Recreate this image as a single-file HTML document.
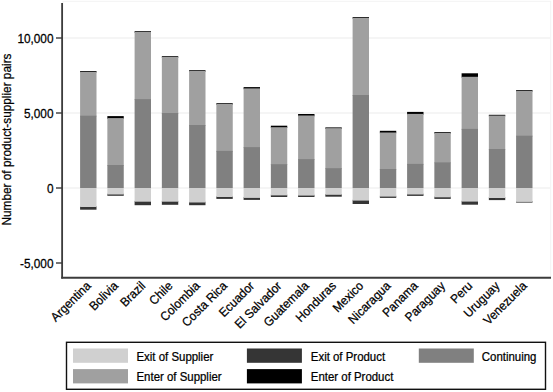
<!DOCTYPE html>
<html><head><meta charset="utf-8"><style>
html,body{margin:0;padding:0;background:#fff;}
body{width:553px;height:392px;overflow:hidden;}
svg{display:block;font-family:"Liberation Sans", sans-serif;}
</style></head><body>
<svg width="553" height="392" viewBox="0 0 553 392" fill="#000">
<rect x="63" y="1.3" width="487.7" height="276" fill="none" stroke="#f3f3f3" stroke-width="1"/>
<line x1="63" y1="38" x2="550" y2="38" stroke="#ebebeb" stroke-width="1"/>
<line x1="63" y1="113" x2="550" y2="113" stroke="#ebebeb" stroke-width="1"/>
<line x1="63" y1="188" x2="550" y2="188" stroke="#ebebeb" stroke-width="1"/>
<rect x="80.1" y="71" width="16.4" height="1.55" fill="#000000"/>
<rect x="80.1" y="71.75" width="16.4" height="44.75" fill="#a0a0a0"/>
<rect x="80.1" y="115.7" width="16.4" height="72.3" fill="#808080"/>
<rect x="80.1" y="206.2" width="16.4" height="3.5" fill="#353535"/>
<rect x="80.1" y="188" width="16.4" height="19" fill="#d0d0d0"/>
<rect x="107.35" y="116.1" width="16.4" height="2.8" fill="#000000"/>
<rect x="107.35" y="118.1" width="16.4" height="47.7" fill="#a0a0a0"/>
<rect x="107.35" y="165" width="16.4" height="23" fill="#808080"/>
<rect x="107.35" y="193.7" width="16.4" height="2.1" fill="#353535"/>
<rect x="107.35" y="188" width="16.4" height="6.5" fill="#d0d0d0"/>
<rect x="134.6" y="31.2" width="16.4" height="1.55" fill="#000000"/>
<rect x="134.6" y="31.95" width="16.4" height="67.95" fill="#a0a0a0"/>
<rect x="134.6" y="99.1" width="16.4" height="88.9" fill="#808080"/>
<rect x="134.6" y="200.9" width="16.4" height="4.3" fill="#353535"/>
<rect x="134.6" y="188" width="16.4" height="13.7" fill="#d0d0d0"/>
<rect x="161.85" y="56.2" width="16.4" height="1.55" fill="#000000"/>
<rect x="161.85" y="56.95" width="16.4" height="56.85" fill="#a0a0a0"/>
<rect x="161.85" y="113" width="16.4" height="75" fill="#808080"/>
<rect x="161.85" y="200.9" width="16.4" height="3.9" fill="#353535"/>
<rect x="161.85" y="188" width="16.4" height="13.7" fill="#d0d0d0"/>
<rect x="189.1" y="70.2" width="16.4" height="1.55" fill="#000000"/>
<rect x="189.1" y="70.95" width="16.4" height="54.85" fill="#a0a0a0"/>
<rect x="189.1" y="125" width="16.4" height="63" fill="#808080"/>
<rect x="189.1" y="201.7" width="16.4" height="3.5" fill="#353535"/>
<rect x="189.1" y="188" width="16.4" height="14.5" fill="#d0d0d0"/>
<rect x="216.35" y="103.2" width="16.4" height="1.55" fill="#000000"/>
<rect x="216.35" y="103.95" width="16.4" height="47.75" fill="#a0a0a0"/>
<rect x="216.35" y="150.9" width="16.4" height="37.1" fill="#808080"/>
<rect x="216.35" y="196.2" width="16.4" height="2.7" fill="#353535"/>
<rect x="216.35" y="188" width="16.4" height="9" fill="#d0d0d0"/>
<rect x="243.6" y="87.1" width="16.4" height="2.1" fill="#000000"/>
<rect x="243.6" y="88.4" width="16.4" height="59.5" fill="#a0a0a0"/>
<rect x="243.6" y="147.1" width="16.4" height="40.9" fill="#808080"/>
<rect x="243.6" y="197.1" width="16.4" height="2.8" fill="#353535"/>
<rect x="243.6" y="188" width="16.4" height="9.9" fill="#d0d0d0"/>
<rect x="270.85" y="125.7" width="16.4" height="2.3" fill="#000000"/>
<rect x="270.85" y="127.2" width="16.4" height="37.8" fill="#a0a0a0"/>
<rect x="270.85" y="164.2" width="16.4" height="23.8" fill="#808080"/>
<rect x="270.85" y="194.6" width="16.4" height="2.4" fill="#353535"/>
<rect x="270.85" y="188" width="16.4" height="7.4" fill="#d0d0d0"/>
<rect x="298.1" y="114" width="16.4" height="2.3" fill="#000000"/>
<rect x="298.1" y="115.5" width="16.4" height="44.4" fill="#a0a0a0"/>
<rect x="298.1" y="159.1" width="16.4" height="28.9" fill="#808080"/>
<rect x="298.1" y="194.8" width="16.4" height="2.2" fill="#353535"/>
<rect x="298.1" y="188" width="16.4" height="7.6" fill="#d0d0d0"/>
<rect x="325.35" y="127.4" width="16.4" height="1.55" fill="#000000"/>
<rect x="325.35" y="128.15" width="16.4" height="40.85" fill="#a0a0a0"/>
<rect x="325.35" y="168.2" width="16.4" height="19.8" fill="#808080"/>
<rect x="325.35" y="194" width="16.4" height="2.7" fill="#353535"/>
<rect x="325.35" y="188" width="16.4" height="6.8" fill="#d0d0d0"/>
<rect x="352.6" y="17.1" width="16.4" height="1.55" fill="#000000"/>
<rect x="352.6" y="17.85" width="16.4" height="77.95" fill="#a0a0a0"/>
<rect x="352.6" y="95" width="16.4" height="93" fill="#808080"/>
<rect x="352.6" y="199.8" width="16.4" height="4.2" fill="#353535"/>
<rect x="352.6" y="188" width="16.4" height="12.6" fill="#d0d0d0"/>
<rect x="379.85" y="130.8" width="16.4" height="2.5" fill="#000000"/>
<rect x="379.85" y="132.5" width="16.4" height="37.3" fill="#a0a0a0"/>
<rect x="379.85" y="169" width="16.4" height="19" fill="#808080"/>
<rect x="379.85" y="195.8" width="16.4" height="2.1" fill="#353535"/>
<rect x="379.85" y="188" width="16.4" height="8.6" fill="#d0d0d0"/>
<rect x="407.1" y="111.9" width="16.4" height="2.8" fill="#000000"/>
<rect x="407.1" y="113.9" width="16.4" height="50.8" fill="#a0a0a0"/>
<rect x="407.1" y="163.9" width="16.4" height="24.1" fill="#808080"/>
<rect x="407.1" y="193.7" width="16.4" height="2.2" fill="#353535"/>
<rect x="407.1" y="188" width="16.4" height="6.5" fill="#d0d0d0"/>
<rect x="434.35" y="132.1" width="16.4" height="1.55" fill="#000000"/>
<rect x="434.35" y="132.85" width="16.4" height="30.35" fill="#a0a0a0"/>
<rect x="434.35" y="162.4" width="16.4" height="25.6" fill="#808080"/>
<rect x="434.35" y="196.5" width="16.4" height="2.4" fill="#353535"/>
<rect x="434.35" y="188" width="16.4" height="9.3" fill="#d0d0d0"/>
<rect x="461.6" y="73.3" width="16.4" height="4.3" fill="#000000"/>
<rect x="461.6" y="76.8" width="16.4" height="52.9" fill="#a0a0a0"/>
<rect x="461.6" y="128.9" width="16.4" height="59.1" fill="#808080"/>
<rect x="461.6" y="200.8" width="16.4" height="3.9" fill="#353535"/>
<rect x="461.6" y="188" width="16.4" height="13.6" fill="#d0d0d0"/>
<rect x="488.85" y="114.8" width="16.4" height="1.55" fill="#000000"/>
<rect x="488.85" y="115.55" width="16.4" height="34.25" fill="#a0a0a0"/>
<rect x="488.85" y="149" width="16.4" height="39" fill="#808080"/>
<rect x="488.85" y="197.2" width="16.4" height="2.9" fill="#353535"/>
<rect x="488.85" y="188" width="16.4" height="10" fill="#d0d0d0"/>
<rect x="516.1" y="90.1" width="16.4" height="1.55" fill="#000000"/>
<rect x="516.1" y="90.85" width="16.4" height="45.65" fill="#a0a0a0"/>
<rect x="516.1" y="135.7" width="16.4" height="52.3" fill="#808080"/>
<rect x="516.1" y="201.1" width="16.4" height="1.5" fill="#353535"/>
<rect x="516.1" y="188" width="16.4" height="13.9" fill="#d0d0d0"/>
<line x1="62.1" y1="2.9" x2="62.1" y2="278.6" stroke="#3c3c3c" stroke-width="1.8"/>
<line x1="61.2" y1="277.75" x2="551" y2="277.75" stroke="#3c3c3c" stroke-width="1.8"/>
<line x1="56" y1="38" x2="62" y2="38" stroke="#3a3a3a" stroke-width="1.4"/>
<text transform="translate(53.5,42.8) scale(0.945,1)" text-anchor="end" font-size="12.5" stroke="#000" stroke-width="0.25">10,000</text>
<line x1="56" y1="113" x2="62" y2="113" stroke="#3a3a3a" stroke-width="1.4"/>
<text transform="translate(53.5,117.8) scale(0.945,1)" text-anchor="end" font-size="12.5" stroke="#000" stroke-width="0.25">5,000</text>
<line x1="56" y1="188" x2="62" y2="188" stroke="#3a3a3a" stroke-width="1.4"/>
<text transform="translate(53.5,192.8) scale(0.945,1)" text-anchor="end" font-size="12.5" stroke="#000" stroke-width="0.25">0</text>
<line x1="56" y1="263" x2="62" y2="263" stroke="#3a3a3a" stroke-width="1.4"/>
<text transform="translate(53.5,267.8) scale(0.945,1)" text-anchor="end" font-size="12.5" stroke="#000" stroke-width="0.25">-5,000</text>
<text transform="translate(10.8,139.5) rotate(-90) scale(0.945,1)" text-anchor="middle" font-size="12.5" stroke="#000" stroke-width="0.25">Number of product-supplier pairs</text>
<text transform="translate(91.6,286.6) rotate(-45) scale(0.945,1)" text-anchor="end" font-size="12.5" stroke="#000" stroke-width="0.25">Argentina</text>
<text transform="translate(118.85,286.6) rotate(-45) scale(0.945,1)" text-anchor="end" font-size="12.5" stroke="#000" stroke-width="0.25">Bolivia</text>
<text transform="translate(146.1,286.6) rotate(-45) scale(0.945,1)" text-anchor="end" font-size="12.5" stroke="#000" stroke-width="0.25">Brazil</text>
<text transform="translate(173.35,286.6) rotate(-45) scale(0.945,1)" text-anchor="end" font-size="12.5" stroke="#000" stroke-width="0.25">Chile</text>
<text transform="translate(200.6,286.6) rotate(-45) scale(0.945,1)" text-anchor="end" font-size="12.5" stroke="#000" stroke-width="0.25">Colombia</text>
<text transform="translate(227.85,286.6) rotate(-45) scale(0.945,1)" text-anchor="end" font-size="12.5" stroke="#000" stroke-width="0.25">Costa Rica</text>
<text transform="translate(255.1,286.6) rotate(-45) scale(0.945,1)" text-anchor="end" font-size="12.5" stroke="#000" stroke-width="0.25">Ecuador</text>
<text transform="translate(282.35,286.6) rotate(-45) scale(0.945,1)" text-anchor="end" font-size="12.5" stroke="#000" stroke-width="0.25">El Salvador</text>
<text transform="translate(309.6,286.6) rotate(-45) scale(0.945,1)" text-anchor="end" font-size="12.5" stroke="#000" stroke-width="0.25">Guatemala</text>
<text transform="translate(336.85,286.6) rotate(-45) scale(0.945,1)" text-anchor="end" font-size="12.5" stroke="#000" stroke-width="0.25">Honduras</text>
<text transform="translate(364.1,286.6) rotate(-45) scale(0.945,1)" text-anchor="end" font-size="12.5" stroke="#000" stroke-width="0.25">Mexico</text>
<text transform="translate(391.35,286.6) rotate(-45) scale(0.945,1)" text-anchor="end" font-size="12.5" stroke="#000" stroke-width="0.25">Nicaragua</text>
<text transform="translate(418.6,286.6) rotate(-45) scale(0.945,1)" text-anchor="end" font-size="12.5" stroke="#000" stroke-width="0.25">Panama</text>
<text transform="translate(445.85,286.6) rotate(-45) scale(0.945,1)" text-anchor="end" font-size="12.5" stroke="#000" stroke-width="0.25">Paraguay</text>
<text transform="translate(473.1,286.6) rotate(-45) scale(0.945,1)" text-anchor="end" font-size="12.5" stroke="#000" stroke-width="0.25">Peru</text>
<text transform="translate(500.35,286.6) rotate(-45) scale(0.945,1)" text-anchor="end" font-size="12.5" stroke="#000" stroke-width="0.25">Uruguay</text>
<text transform="translate(527.6,286.6) rotate(-45) scale(0.945,1)" text-anchor="end" font-size="12.5" stroke="#000" stroke-width="0.25">Venezuela</text>
<rect x="66.5" y="342.3" width="479" height="47" fill="#fff" stroke="#111" stroke-width="1.4"/>
<rect x="73.0" y="348.5" width="55" height="14.3" fill="#d0d0d0"/>
<text transform="translate(136.5,361) scale(0.93,1)" font-size="12.3" stroke="#000" stroke-width="0.25">Exit of Supplier</text>
<rect x="246.9" y="348.5" width="55" height="14.3" fill="#353535"/>
<text transform="translate(310.8,361) scale(0.93,1)" font-size="12.3" stroke="#000" stroke-width="0.25">Exit of Product</text>
<rect x="418.8" y="348.5" width="55" height="14.3" fill="#808080"/>
<text transform="translate(481.8,361) scale(0.93,1)" font-size="12.3" stroke="#000" stroke-width="0.25">Continuing</text>
<rect x="73.0" y="369.1" width="55" height="14.3" fill="#a0a0a0"/>
<text transform="translate(136.5,381) scale(0.93,1)" font-size="12.3" stroke="#000" stroke-width="0.25">Enter of Supplier</text>
<rect x="246.9" y="369.1" width="55" height="14.3" fill="#000000"/>
<text transform="translate(310.8,381) scale(0.93,1)" font-size="12.3" stroke="#000" stroke-width="0.25">Enter of Product</text>
</svg>
</body></html>
